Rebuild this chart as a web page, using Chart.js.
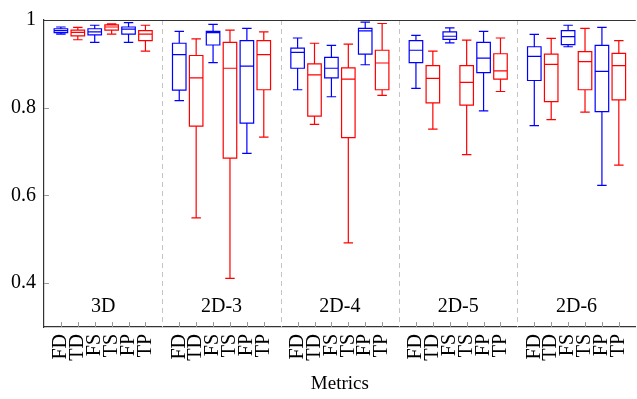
<!DOCTYPE html>
<html>
<head>
<meta charset="utf-8">
<script src="https://cdn.jsdelivr.net/npm/chart.js@4"></script>
<style>
  html, body { margin: 0; padding: 0; background: #fff; overflow: hidden; }
  #wrap { width: 650px; height: 399px; }
</style>
</head>
<body>
<div id="wrap"><canvas id="box"></canvas></div>
<script>
let groups = ['3D', '2D-3', '2D-4', '2D-5', '2D-6'];
let metrics = ['FD', 'TD', 'FS', 'TS', 'FP', 'TP'];
let yTicks = [0.4, 0.6, 0.8, 1];

// one entry per group: [low whisker, q1, median, q3, high whisker]
let statsFD = [
    [0.968, 0.971, 0.976, 0.980, 0.984],
    [0.816, 0.840, 0.921, 0.947, 0.974],
    [0.841, 0.890, 0.926, 0.936, 0.959],
    [0.844, 0.903, 0.931, 0.953, 0.965],
    [0.759, 0.862, 0.917, 0.939, 0.967]
];
let statsTD = [
    [0.955, 0.964, 0.972, 0.977, 0.983],
    [0.549, 0.758, 0.868, 0.919, 0.957],
    [0.762, 0.781, 0.875, 0.900, 0.947],
    [0.751, 0.811, 0.867, 0.896, 0.929],
    [0.773, 0.814, 0.899, 0.922, 0.958]
];
let statsFS = [
    [0.949, 0.966, 0.973, 0.980, 0.988],
    [0.903, 0.943, 0.971, 0.974, 0.990],
    [0.825, 0.868, 0.890, 0.915, 0.942],
    [0.948, 0.956, 0.963, 0.973, 0.982],
    [0.939, 0.944, 0.962, 0.976, 0.988]
];
let statsTS = [
    [0.968, 0.977, 0.984, 0.989, 0.991],
    [0.411, 0.685, 0.890, 0.949, 0.977],
    [0.492, 0.732, 0.865, 0.891, 0.945],
    [0.693, 0.806, 0.858, 0.896, 0.954],
    [0.790, 0.841, 0.905, 0.928, 0.981]
];
let statsFP = [
    [0.949, 0.968, 0.979, 0.984, 0.994],
    [0.696, 0.765, 0.895, 0.953, 0.981],
    [0.898, 0.922, 0.975, 0.981, 0.995],
    [0.793, 0.880, 0.913, 0.949, 0.974],
    [0.623, 0.791, 0.883, 0.942, 0.983]
];
let statsTP = [
    [0.929, 0.953, 0.968, 0.976, 0.988],
    [0.733, 0.841, 0.921, 0.953, 0.973],
    [0.828, 0.841, 0.902, 0.931, 0.992],
    [0.837, 0.865, 0.884, 0.923, 0.959],
    [0.669, 0.818, 0.896, 0.924, 0.953]
];

const allStats = [statsFD, statsTD, statsFS, statsTS, statsFP, statsTP];
const colors = ['#0000ff', '#ff0000', '#0000ff', '#ff0000', '#0000ff', '#ff0000'];
const slots = metrics.length + 1;
const serif = '"Liberation Serif", "DejaVu Serif", serif';

// x position of metric k in group g
function xPos(g, k) {
    return g * slots + k + 1;
}

const datasets = metrics.map((m, k) => ({
    label: m,
    data: allStats[k].map((s, g) => ({ x: xPos(g, k), y: s[2], stats: s })),
    borderColor: colors[k],
    backgroundColor: colors[k],
    pointRadius: 0
}));

const boxPlugin = {
    id: 'boxes',
    afterDatasetsDraw(chart) {
        const ctx = chart.ctx;
        const xs = chart.scales.x;
        const ys = chart.scales.y;
        const area = chart.chartArea;
        const slot = xs.getPixelForValue(1) - xs.getPixelForValue(0);
        const halfBox = slot * 0.4;
        const halfCap = slot * 0.28;

        ctx.save();
        // group separators
        ctx.strokeStyle = '#c4c4c4';
        ctx.lineWidth = 1;
        ctx.setLineDash([5, 4]);
        for (let g = 1; g < groups.length; g++) {
            const px = Math.round(xs.getPixelForValue(g * slots)) + 0.5;
            ctx.beginPath();
            ctx.moveTo(px, area.top);
            ctx.lineTo(px, area.bottom);
            ctx.stroke();
        }
        ctx.setLineDash([]);

        // inner tick marks
        ctx.strokeStyle = '#999';
        groups.forEach((grp, g) => {
            metrics.forEach((m, k) => {
                const px = Math.round(xs.getPixelForValue(xPos(g, k))) + 0.5;
                ctx.beginPath();
                ctx.moveTo(px, area.bottom);
                ctx.lineTo(px, area.bottom - 5);
                ctx.stroke();
            });
        });
        yTicks.forEach(v => {
            const py = Math.round(ys.getPixelForValue(v)) + 0.5;
            ctx.beginPath();
            ctx.moveTo(area.left, py);
            ctx.lineTo(area.left + 5, py);
            ctx.stroke();
        });

        // top frame line
        ctx.strokeStyle = '#333';
        ctx.beginPath();
        ctx.moveTo(area.left, area.top + 0.5);
        ctx.lineTo(area.right, area.top + 0.5);
        ctx.stroke();

        // boxes
        ctx.lineWidth = 1.2;
        chart.data.datasets.forEach((ds, k) => {
            ctx.strokeStyle = ds.borderColor;
            ds.data.forEach(pt => {
                const s = pt.stats;
                const cx = xs.getPixelForValue(pt.x);
                const yLo = ys.getPixelForValue(s[0]);
                const yQ1 = ys.getPixelForValue(s[1]);
                const yMed = ys.getPixelForValue(s[2]);
                const yQ3 = ys.getPixelForValue(s[3]);
                const yHi = ys.getPixelForValue(s[4]);
                ctx.beginPath();
                ctx.rect(cx - halfBox, yQ3, halfBox * 2, yQ1 - yQ3);
                ctx.moveTo(cx - halfBox, yMed);
                ctx.lineTo(cx + halfBox, yMed);
                ctx.moveTo(cx, yQ3);
                ctx.lineTo(cx, yHi);
                ctx.moveTo(cx - halfCap, yHi);
                ctx.lineTo(cx + halfCap, yHi);
                ctx.moveTo(cx, yQ1);
                ctx.lineTo(cx, yLo);
                ctx.moveTo(cx - halfCap, yLo);
                ctx.lineTo(cx + halfCap, yLo);
                ctx.stroke();
            });
        });

        // group names
        ctx.fillStyle = '#000';
        ctx.font = '20px ' + serif;
        ctx.textAlign = 'center';
        ctx.textBaseline = 'middle';
        groups.forEach((grp, g) => {
            const px = xs.getPixelForValue(g * slots + slots / 2);
            ctx.fillText(grp, px, area.bottom - 20);
        });
        ctx.restore();
    }
};

const chart = new Chart(document.querySelector('#box'), {
    type: 'scatter',
    data: { datasets },
    options: {
        animation: false,
        responsive: true,
        maintainAspectRatio: false,
        layout: {
            padding: { top: 17, right: 6, left: 0, bottom: 0 }
        },
        plugins: {
            legend: { display: false },
            tooltip: { enabled: false }
        },
        scales: {
            x: {
                type: 'linear',
                min: 0,
                max: groups.length * slots,
                grid: { display: false, drawTicks: false },
                border: { display: true, color: '#333', width: 1.2 },
                afterBuildTicks: scale => {
                    const t = [];
                    groups.forEach((grp, g) => metrics.forEach((m, k) => t.push({ value: xPos(g, k) })));
                    scale.ticks = t;
                },
                afterFit: scale => { scale.height = 72; },
                ticks: {
                    autoSkip: false,
                    minRotation: 90,
                    maxRotation: 90,
                    padding: 7,
                    color: '#000',
                    font: { family: serif, size: 20 },
                    callback: value => metrics[(Math.round(value) - 1) % slots]
                },
                title: {
                    display: true,
                    text: 'Metrics',
                    color: '#000',
                    font: { family: serif, size: 19 },
                    padding: { top: 0, bottom: 4 }
                }
            },
            y: {
                min: 0.3,
                max: 1,
                grid: { display: false, drawTicks: false },
                border: { display: true, color: '#333', width: 1.2 },
                afterBuildTicks: scale => {
                    scale.ticks = yTicks.map(v => ({ value: v }));
                },
                afterFit: scale => { scale.width = 44; },
                ticks: {
                    padding: 8,
                    color: '#000',
                    font: { family: serif, size: 20 },
                    callback: value => value === 1 ? '1' : value.toFixed(1)
                }
            }
        }
    },
    plugins: [boxPlugin]
});
</script>
</body>
</html>
